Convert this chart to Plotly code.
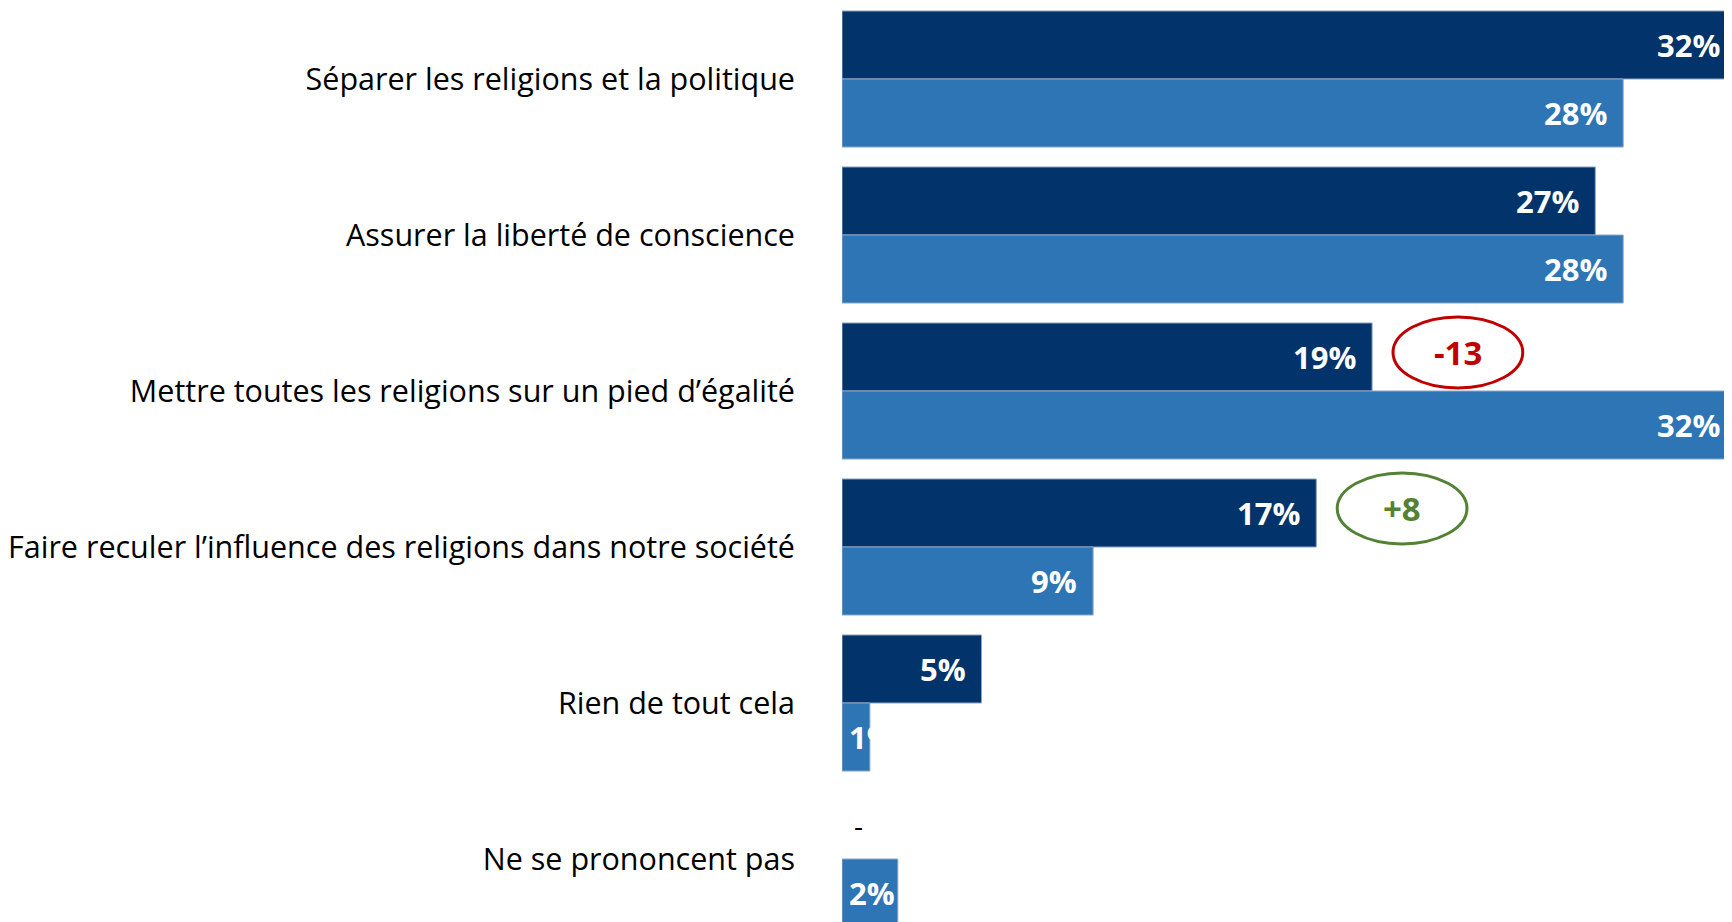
import plotly.graph_objects as go

categories = [
    "Séparer les religions et la politique",
    "Assurer la liberté de conscience",
    "Mettre toutes les religions sur un pied d’égalité",
    "Faire reculer l’influence des religions dans notre société",
    "Rien de tout cela",
    "Ne se prononcent pas",
]
serie_recente = [32, 27, 19, 17, 5, 0]
serie_ancienne = [28, 28, 32, 9, 1, 2]
highlight = [False, False, True, True, False, False]

DARK = "#02336A"
LIGHT = "#2E75B6"
FONT = "Open Sans"
PX_PER_PCT = 27.9
XMAX = 890 / PX_PER_PCT

fig = go.Figure()
for vals, col in ((serie_recente, DARK), (serie_ancienne, LIGHT)):
    fig.add_trace(go.Bar(y=categories, x=vals, orientation="h",
                         marker=dict(color=col,
                                     line=dict(color="#8EA6C6",
                                               width=[1 if v > 0 else 0 for v in vals])),
                         hoverinfo="skip"))

half = 0.436 / 2
annotations = []
shapes = []
lab_font = dict(family=FONT, size=31, color="white", weight="bold")
for i, (a, b) in enumerate(zip(serie_recente, serie_ancienne)):
    for v, off in ((a, -half), (b, half)):
        if v == 0:
            annotations.append(dict(x=0, y=i + off, xref="x", yref="y", text="-",
                                    showarrow=False, xanchor="left", xshift=10,
                                    font=dict(family=FONT, size=28, color="#000")))
        elif v <= 2:
            annotations.append(dict(x=0, y=i + off, xref="x", yref="y", text=f"{v}%",
                                    showarrow=False, xanchor="left", xshift=5,
                                    font=lab_font))
        else:
            xs = -14 if v <= XMAX else -10
            annotations.append(dict(x=min(v, XMAX), y=i + off, xref="x", yref="y", text=f"{v}%",
                                    showarrow=False, xanchor="right", xshift=xs,
                                    font=lab_font))
    if highlight[i]:
        d = a - b
        col = "#C00000" if d < 0 else "#548235"
        txt = f"{d:+d}" if d > 0 else f"{d}"
        cx0, cx1 = a + 0.75, a + 5.4
        shapes.append(dict(type="circle", xref="x", yref="y", x0=cx0, x1=cx1,
                           y0=i - 0.475, y1=i - 0.02, line=dict(color=col, width=3)))
        annotations.append(dict(x=(cx0 + cx1) / 2, y=i - 0.25, xref="x", yref="y", text=txt,
                                showarrow=False, font=dict(family=FONT, size=33, color=col, weight="bold")))

TOP = -71 / 156
fig.update_layout(
    width=1724, height=914,
    margin=dict(l=834, r=0, t=0, b=0),
    paper_bgcolor="white", plot_bgcolor="white",
    barmode="group", bargap=0.128, bargroupgap=0,
    showlegend=False,
    annotations=annotations, shapes=shapes,
    font=dict(family=FONT, color="#000"),
)
fig.update_xaxes(range=[0, XMAX], visible=False)
fig.update_yaxes(range=[TOP + 914 / 156, TOP], showgrid=False, zeroline=False, showline=False,
                 ticks="", ticklabelstandoff=46,
                 tickfont=dict(family=FONT, size=30.5, color="#000"))

fig.write_html("out.html")
